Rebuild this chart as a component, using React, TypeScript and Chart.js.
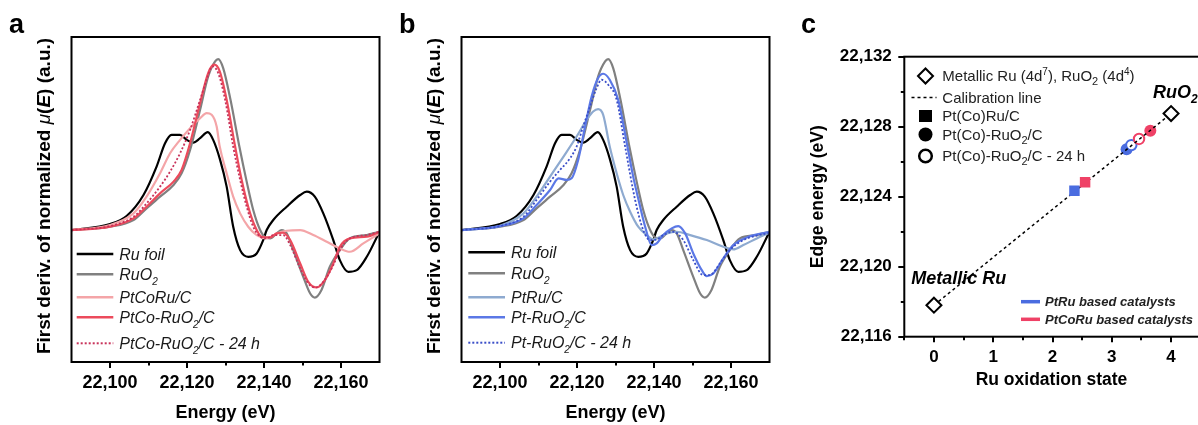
import { useEffect, useRef } from 'react';
import { Chart, registerables } from 'chart.js';

Chart.register(...registerables);

const FONT = '"Liberation Sans", Arial, Helvetica, sans-serif';

// ---------------- Panels a & b : first derivative of normalized mu(E) ----------------
const energyTicks = [22100, 22120, 22140, 22160];
const energyMinorTicks = [22110, 22130, 22150];

const ruFoilE = [22090, 22100, 22104.3, 22108.7, 22112.1, 22114.3, 22116.0, 22118.2, 22119.9, 22121.6, 22123.4, 22125.4, 22126.8, 22128.6, 22130.3, 22132.0, 22133.8, 22135.9, 22138.1, 22139.8, 22140.7, 22142.4, 22145.9, 22149.4, 22151.1, 22153.2, 22155.4, 22158.0, 22159.7, 22161.9, 22164.1, 22166.7, 22170];
const ruFoilD = [0, 0.18, 0.42, 1.05, 1.9, 2.6, 2.85, 2.85, 2.7, 2.62, 2.75, 2.93, 2.7, 2.1, 1.3, 0.1, -0.6, -0.8, -0.7, -0.3, 0, 0.3, 0.7, 1.05, 1.15, 1.0, 0.5, -0.3, -0.9, -1.25, -1.2, -0.8, -0.05];

const ruO2E = [22090, 22100, 22106.1, 22109.5, 22113.0, 22116.5, 22118.6, 22120.8, 22123.4, 22125.5, 22127.3, 22128.1, 22129.4, 22131.3, 22133.6, 22135.5, 22137.2, 22139.0, 22140.3, 22141.6, 22143.3, 22144.6, 22145.9, 22147.6, 22150.2, 22152.0, 22153.2, 22154.9, 22157.1, 22159.7, 22162.3, 22166.7, 22170];
const ruO2D = [0, 0.1, 0.3, 0.65, 1.0, 1.35, 1.7, 2.4, 3.6, 4.6, 5.05, 5.12, 4.85, 3.9, 2.5, 1.45, 0.6, 0.0, -0.22, -0.25, -0.1, 0, -0.1, -0.6, -1.4, -1.9, -2.02, -1.8, -1.1, -0.6, -0.25, -0.15, -0.05];

const ptCoRuE = [22090, 22100, 22106.1, 22109.5, 22113.0, 22115.6, 22118.2, 22120.8, 22123.4, 22125.1, 22126.4, 22127.7, 22128.5, 22130.3, 22132.0, 22133.8, 22135.9, 22138.1, 22140.7, 22143.3, 22145.9, 22149.4, 22152.8, 22156.3, 22159.7, 22162.3, 22165.8, 22170];
const ptCoRuD = [0, 0.15, 0.5, 1.0, 1.7, 2.3, 2.7, 3.05, 3.35, 3.5, 3.45, 3.1, 2.5, 1.7, 1.0, 0.5, 0.1, -0.15, -0.25, -0.1, -0.02, 0, -0.15, -0.35, -0.55, -0.65, -0.4, -0.1];

const ptCoRuO2E = [22090, 22100, 22106.1, 22109.5, 22113.0, 22116.5, 22118.6, 22120.8, 22123.4, 22125.5, 22127.1, 22128.5, 22130.3, 22132.5, 22134.2, 22135.9, 22137.7, 22139.4, 22141.6, 22143.3, 22145.0, 22146.8, 22149.4, 22151.5, 22153.7, 22155.8, 22158.0, 22159.7, 22162.3, 22166.7, 22170];
const ptCoRuO2D = [0, 0.1, 0.35, 0.7, 1.1, 1.45, 1.8, 2.6, 3.8, 4.7, 4.95, 4.75, 3.9, 2.5, 1.5, 0.7, 0.1, -0.2, -0.22, -0.1, -0.08, -0.3, -1.0, -1.55, -1.72, -1.5, -1.0, -0.5, -0.25, -0.2, -0.05];

const ptCoRuO2_24hE = [22090, 22100, 22106.1, 22109.5, 22113.0, 22115.6, 22118.2, 22120.8, 22123.4, 22125.1, 22126.6, 22128.1, 22129.9, 22132.0, 22133.8, 22135.5, 22137.2, 22139.0, 22140.7, 22142.4, 22145.0, 22146.8, 22149.4, 22151.5, 22153.2, 22155.4, 22158.0, 22159.7, 22162.3, 22166.7, 22170];
const ptCoRuO2_24hD = [0, 0.12, 0.4, 0.8, 1.3, 1.75, 2.3, 3.0, 3.9, 4.5, 4.9, 4.7, 3.9, 2.5, 1.5, 0.7, 0.1, -0.2, -0.25, -0.15, -0.15, -0.45, -1.15, -1.6, -1.72, -1.55, -1.05, -0.6, -0.25, -0.15, -0.05];

const ptRuE = [22090, 22100, 22106.1, 22109.5, 22113.0, 22116.5, 22119.9, 22122.5, 22124.2, 22125.5, 22126.8, 22128.5, 22130.3, 22132.0, 22133.8, 22135.9, 22138.1, 22139.8, 22143.3, 22145.9, 22149.4, 22153.7, 22158.0, 22160.6, 22163.2, 22166.7, 22170];
const ptRuD = [0, 0.13, 0.5, 1.0, 1.6, 2.2, 2.8, 3.3, 3.55, 3.62, 3.45, 2.5, 1.7, 1.05, 0.55, 0.1, -0.15, -0.28, -0.1, -0.05, -0.15, -0.3, -0.5, -0.58, -0.45, -0.25, -0.08];

const ptRuO2E = [22090, 22100, 22106.1, 22109.5, 22113.0, 22115.2, 22117.3, 22118.6, 22120.3, 22122.1, 22123.8, 22125.5, 22126.8, 22128.5, 22130.7, 22133.1, 22134.6, 22136.4, 22137.7, 22139.4, 22140.7, 22142.4, 22144.6, 22146.3, 22148.1, 22150.2, 22152.4, 22153.7, 22155.4, 22158.0, 22160.6, 22164.1, 22170];
const ptRuO2D = [0, 0.12, 0.35, 0.75, 1.2, 1.55, 1.5, 1.55, 2.1, 3.1, 4.0, 4.55, 4.68, 4.5, 3.9, 2.5, 1.6, 0.7, 0.1, -0.45, -0.4, -0.15, 0.05, 0.12, -0.1, -0.7, -1.2, -1.38, -1.3, -0.85, -0.45, -0.22, -0.05];

const ptRuO2_24hE = [22090, 22100, 22106.1, 22109.5, 22113.0, 22115.6, 22118.2, 22119.9, 22121.6, 22123.4, 22125.1, 22126.4, 22128.1, 22130.3, 22132.5, 22135.1, 22137.2, 22139.0, 22140.7, 22142.4, 22145.0, 22147.6, 22150.2, 22152.8, 22154.5, 22157.1, 22159.7, 22163.2, 22170];
const ptRuO2_24hD = [0, 0.12, 0.4, 0.9, 1.45, 1.8, 2.15, 2.5, 3.1, 3.7, 4.25, 4.5, 4.35, 3.9, 2.5, 0.9, 0, -0.3, -0.28, -0.15, -0.05, -0.3, -0.9, -1.35, -1.35, -1.0, -0.6, -0.3, -0.08];

const labelsA = ['Ru foil', 'RuO₂', 'PtCoRu/C', 'PtCo-RuO₂/C', 'PtCo-RuO₂/C - 24 h'];
const labelsB = ['Ru foil', 'RuO₂', 'PtRu/C', 'Pt-RuO₂/C', 'Pt-RuO₂/C - 24 h'];

// ---------------- Panel c : edge energy vs Ru oxidation state ----------------
const stateTicks = [0, 1, 2, 3, 4];
const stateMinorTicks = [-0.5, 0.5, 1.5, 2.5, 3.5];
const edgeTicks = [22116, 22120, 22124, 22128, 22132];
const edgeMinorTicks = [22118, 22122, 22126, 22130];

const refNames = ['Metallic Ru', 'RuO₂'];
const refState = [0, 4];
const refEdge = [22117.8, 22128.75];
const squareState = [2.37, 2.55]; // PtRu/C, PtCoRu/C
const squareEdge = [22124.34, 22124.82];
const filledState = [3.25, 3.65]; // Pt-RuO2/C, PtCo-RuO2/C
const filledEdge = [22126.71, 22127.77];
const openState = [3.33, 3.46]; // after 24 h
const openEdge = [22126.95, 22127.3];
const cLegendLabels = ['Metallic Ru (4d⁷), RuO₂ (4d⁴)', 'Calibration line', 'Pt(Co)Ru/C', 'Pt(Co)-RuO₂/C', 'Pt(Co)-RuO₂/C - 24 h'];
const familyLabels = ['PtRu based catalysts', 'PtCoRu based catalysts'];

// ---------------- styles ----------------
const BLUE_C = '#4a6ce0';
const RED_C = '#ef4166';

type Seg = { t: string; f: string; dy?: number };
const SUBS = '₀₁₂₃₄₅₆₇₈₉';
const SUPS = '⁰¹²³⁴⁵⁶⁷⁸⁹';

function rich(text: string, style: string, size: number, subSize: number, subDy: number, supSize = subSize, supDy = -subDy - 2): Seg[] {
  const f = (sz: number) => `${style} ${sz}px ${FONT}`;
  const out: Seg[] = [];
  let buf = '';
  for (const ch of text) {
    const i = SUBS.indexOf(ch);
    const j = SUPS.indexOf(ch);
    if (i < 0 && j < 0) { buf += ch; continue; }
    if (buf) out.push({ t: buf, f: f(size) });
    buf = '';
    out.push(i >= 0 ? { t: String(i), f: f(subSize), dy: subDy } : { t: String(j), f: f(supSize), dy: supDy });
  }
  if (buf) out.push({ t: buf, f: f(size) });
  return out;
}

function drawSegs(ctx: CanvasRenderingContext2D, segs: Seg[], x: number, y: number, align: 'left' | 'center', rot: number, color: string) {
  ctx.save();
  ctx.translate(x, y);
  if (rot) ctx.rotate(rot);
  ctx.fillStyle = color;
  ctx.textBaseline = 'alphabetic';
  ctx.textAlign = 'left';
  let w = 0;
  for (const s of segs) { ctx.font = s.f; w += ctx.measureText(s.t).width; }
  let cx = align === 'center' ? -w / 2 : 0;
  for (const s of segs) {
    ctx.font = s.f;
    ctx.fillText(s.t, cx, s.dy || 0);
    cx += ctx.measureText(s.t).width;
  }
  ctx.restore();
}

const pts = (xs: number[], ys: number[]) => xs.map((x, i) => ({ x, y: ys[i] }));

function curve(label: string, e: number[], d: number[], color: string, order: number, dotted = false) {
  return {
    label,
    data: pts(e, d),
    borderColor: color,
    borderWidth: dotted ? 1.8 : 2.2,
    borderDash: dotted ? [2, 2] : [],
    pointRadius: 0,
    cubicInterpolationMode: 'monotone',
    fill: false,
    order,
  };
}

const yTitleSegs: Seg[] = [
  { t: 'First deriv. of normalized ', f: `bold 19px ${FONT}` },
  { t: 'μ', f: `italic 19px ${FONT}` },
  { t: '(', f: `bold 19px ${FONT}` },
  { t: 'E', f: `bold italic 19px ${FONT}` },
  { t: ') (a.u.)', f: `bold 19px ${FONT}` },
];

function spectraConfig(datasets: any[], letter: string, lg: { x0: number; x1: number; tx: number; rows: number[] }) {
  const decor = {
    id: 'decorSpectra',
    afterDraw(chart: any) {
      const ctx: CanvasRenderingContext2D = chart.ctx;
      const a = chart.chartArea;
      const xs = chart.scales.x;
      ctx.save();
      ctx.strokeStyle = '#000';
      ctx.lineWidth = 2;
      ctx.strokeRect(a.left, a.top, a.right - a.left, a.bottom - a.top);
      ctx.beginPath();
      for (const v of energyMinorTicks) {
        const px = Math.round(xs.getPixelForValue(v));
        ctx.moveTo(px, a.bottom);
        ctx.lineTo(px, a.bottom + 3.5);
      }
      ctx.stroke();
      chart.data.datasets.forEach((ds: any, i: number) => {
        const y = lg.rows[i];
        ctx.strokeStyle = ds.borderColor;
        ctx.lineWidth = ds.borderWidth + 0.2;
        ctx.setLineDash(ds.borderDash || []);
        ctx.beginPath();
        ctx.moveTo(lg.x0, y);
        ctx.lineTo(lg.x1, y);
        ctx.stroke();
        ctx.setLineDash([]);
        drawSegs(ctx, rich(ds.label, 'italic', 16, 10, 5), lg.tx, y + 5.5, 'left', 0, '#1a1a1a');
      });
      drawSegs(ctx, [{ t: letter, f: `bold 27px ${FONT}` }], 9, 33.3, 'left', 0, '#000');
      drawSegs(ctx, [{ t: 'Energy (eV)', f: `bold 18px ${FONT}` }], (a.left + a.right) / 2, 418.3, 'center', 0, '#000');
      drawSegs(ctx, yTitleSegs, 49.5, 196, 'center', -Math.PI / 2, '#000');
      ctx.restore();
    },
  };
  return {
    type: 'line',
    data: { datasets },
    options: {
      responsive: false,
      animation: false,
      events: [],
      layout: { padding: { left: 0, top: 37, right: 15.5, bottom: 0 } },
      scales: {
        x: {
          type: 'linear',
          min: 22090,
          max: 22170,
          afterBuildTicks: (s: any) => { s.ticks = energyTicks.map((v) => ({ value: v })); },
          afterFit: (s: any) => { s.height = 63; },
          ticks: {
            autoSkip: false,
            maxRotation: 0,
            padding: 4,
            color: '#000',
            font: { family: FONT, size: 18, weight: 'bold' },
            callback: (v: any) => Number(v).toLocaleString('en-US'),
          },
          grid: { display: true, drawOnChartArea: false, drawTicks: true, tickLength: 6, tickWidth: 2, tickColor: '#000', lineWidth: 2, color: '#000' },
          border: { display: false },
        },
        y: {
          type: 'linear',
          min: -3.95,
          max: 5.78,
          afterFit: (s: any) => { s.width = 71.5; },
          ticks: { display: false },
          grid: { display: false },
          border: { display: false },
        },
      },
      plugins: { legend: { display: false }, tooltip: { enabled: false } },
    },
    plugins: [decor],
  };
}

function oxidationConfig() {
  const decor = {
    id: 'decorOx',
    afterDraw(chart: any) {
      const ctx: CanvasRenderingContext2D = chart.ctx;
      const a = chart.chartArea;
      const xs = chart.scales.x;
      const ys = chart.scales.y;
      ctx.save();
      ctx.strokeStyle = '#000';
      ctx.lineWidth = 2;
      ctx.strokeRect(a.left, a.top, a.right - a.left, a.bottom - a.top);
      ctx.beginPath();
      for (const v of stateMinorTicks) {
        const px = Math.round(xs.getPixelForValue(v));
        ctx.moveTo(px, a.bottom);
        ctx.lineTo(px, a.bottom + 3.5);
      }
      for (const v of edgeMinorTicks) {
        const py = Math.round(ys.getPixelForValue(v));
        ctx.moveTo(a.left, py);
        ctx.lineTo(a.left - 3.5, py);
      }
      ctx.stroke();

      // legend (top-left)
      const mx = 135.5;
      const tx = 152.3;
      const rows = [76, 97.5, 116, 134.5, 156];
      ctx.lineWidth = 2;
      ctx.fillStyle = '#fff';
      ctx.beginPath();
      ctx.moveTo(mx - 7.5, rows[0]);
      ctx.lineTo(mx, rows[0] - 7.5);
      ctx.lineTo(mx + 7.5, rows[0]);
      ctx.lineTo(mx, rows[0] + 7.5);
      ctx.closePath();
      ctx.fill();
      ctx.stroke();
      ctx.lineWidth = 1.5;
      ctx.setLineDash([3, 3]);
      ctx.beginPath();
      ctx.moveTo(mx - 14, rows[1]);
      ctx.lineTo(mx + 11, rows[1]);
      ctx.stroke();
      ctx.setLineDash([]);
      ctx.fillStyle = '#000';
      ctx.fillRect(mx - 6.5, rows[2] - 6, 13, 12);
      ctx.beginPath();
      ctx.arc(mx, rows[3], 7, 0, Math.PI * 2);
      ctx.fill();
      ctx.lineWidth = 2.5;
      ctx.fillStyle = '#fff';
      ctx.beginPath();
      ctx.arc(mx, rows[4], 6.3, 0, Math.PI * 2);
      ctx.fill();
      ctx.stroke();
      cLegendLabels.forEach((lab, i) => {
        drawSegs(ctx, rich(lab, 'normal', 15, 11, 4, 10, -6), tx, rows[i] + 5, 'left', 0, '#222');
      });

      // family legend (bottom-right)
      const famColors = [BLUE_C, RED_C];
      const famRows = [301.7, 319.3];
      familyLabels.forEach((lab, i) => {
        ctx.strokeStyle = famColors[i];
        ctx.lineWidth = 3.5;
        ctx.beginPath();
        ctx.moveTo(231, famRows[i]);
        ctx.lineTo(250, famRows[i]);
        ctx.stroke();
        drawSegs(ctx, [{ t: lab, f: `bold italic 13px ${FONT}` }], 255, famRows[i] + 4.6, 'left', 0, '#222');
      });

      // annotations near reference points
      const offs = [[-22.6, -21], [-18, -15.7]];
      refNames.forEach((name, i) => {
        const px = xs.getPixelForValue(refState[i]) + offs[i][0];
        const py = ys.getPixelForValue(refEdge[i]) + offs[i][1];
        drawSegs(ctx, rich(name, 'bold italic', 18, 12, 5), px, py, 'left', 0, '#000');
      });

      drawSegs(ctx, [{ t: 'c', f: `bold 27px ${FONT}` }], 11, 33.3, 'left', 0, '#000');
      drawSegs(ctx, [{ t: 'Ru oxidation state', f: `bold 17.5px ${FONT}` }], (a.left + a.right) / 2 - 1, 385, 'center', 0, '#000');
      drawSegs(ctx, [{ t: 'Edge energy (eV)', f: `bold 17.5px ${FONT}` }], 33.3, (a.top + a.bottom) / 2, 'center', -Math.PI / 2, '#000');
      ctx.restore();
    },
  };

  const tickFont = { family: FONT, size: 17, weight: 'bold' };
  const grid = { display: true, drawOnChartArea: false, drawTicks: true, tickLength: 5.5, tickWidth: 2, tickColor: '#000', lineWidth: 2, color: '#000' };
  return {
    type: 'scatter',
    data: {
      datasets: [
        { label: cLegendLabels[1], data: pts(refState, refEdge), showLine: true, borderColor: '#000', borderWidth: 1.5, borderDash: [3, 3], pointRadius: 0, order: 2 },
        { label: cLegendLabels[0], data: pts(refState, refEdge), pointStyle: 'rectRot', pointRadius: 7.5, pointBorderWidth: 2, pointBorderColor: '#000', pointBackgroundColor: '#fff', order: 0 },
        { label: cLegendLabels[2], data: pts(squareState, squareEdge), pointStyle: 'rect', pointRadius: 7.4, pointBorderWidth: 0, pointBackgroundColor: [BLUE_C, RED_C], order: 1 },
        { label: cLegendLabels[3], data: pts(filledState, filledEdge), pointStyle: 'circle', pointRadius: 6, pointBorderWidth: 0, pointBackgroundColor: [BLUE_C, RED_C], order: 4 },
        { label: cLegendLabels[4], data: pts(openState, openEdge), pointStyle: 'circle', pointRadius: 5.2, pointBorderWidth: 2, pointBorderColor: [BLUE_C, RED_C], pointBackgroundColor: '#fff', order: 3 },
      ],
    },
    options: {
      responsive: false,
      animation: false,
      events: [],
      layout: { padding: { left: 0, top: 56.7, right: 19.3, bottom: 0 } },
      scales: {
        x: {
          type: 'linear',
          min: -0.5,
          max: 4.5,
          afterBuildTicks: (s: any) => { s.ticks = stateTicks.map((v) => ({ value: v })); },
          afterFit: (s: any) => { s.height = 88.3; },
          ticks: { autoSkip: false, maxRotation: 0, padding: 4.5, color: '#000', font: tickFont, callback: (v: any) => String(v) },
          grid,
          border: { display: false },
        },
        y: {
          type: 'linear',
          min: 22116,
          max: 22132,
          afterBuildTicks: (s: any) => { s.ticks = edgeTicks.map((v) => ({ value: v })); },
          afterFit: (s: any) => { s.width = 114.3; },
          ticks: { autoSkip: false, padding: 6.5, color: '#000', font: tickFont, callback: (v: any) => Number(v).toLocaleString('en-US') },
          grid: { ...grid, tickLength: 6 },
          border: { display: false },
        },
      },
      plugins: { legend: { display: false }, tooltip: { enabled: false } },
    },
    plugins: [decor],
  };
}

function datasetsA() {
  return [
    curve(labelsA[0], ruFoilE, ruFoilD, '#000000', 5),
    curve(labelsA[1], ruO2E, ruO2D, '#808080', 4),
    curve(labelsA[2], ptCoRuE, ptCoRuD, '#f4a5a8', 3),
    curve(labelsA[3], ptCoRuO2E, ptCoRuO2D, '#ec4b5c', 2),
    curve(labelsA[4], ptCoRuO2_24hE, ptCoRuO2_24hD, '#c8325a', 1, true),
  ];
}

function datasetsB() {
  return [
    curve(labelsB[0], ruFoilE, ruFoilD, '#000000', 5),
    curve(labelsB[1], ruO2E, ruO2D, '#808080', 4),
    curve(labelsB[2], ptRuE, ptRuD, '#8eaad0', 3),
    curve(labelsB[3], ptRuO2E, ptRuO2D, '#5b78e6', 2),
    curve(labelsB[4], ptRuO2_24hE, ptRuO2_24hD, '#3a4ec8', 1, true),
  ];
}

export default function App() {
  const aRef = useRef<HTMLCanvasElement>(null);
  const bRef = useRef<HTMLCanvasElement>(null);
  const cRef = useRef<HTMLCanvasElement>(null);

  useEffect(() => {
    const charts = [
      new Chart(aRef.current as any, spectraConfig(datasetsA(), 'a', { x0: 76.7, x1: 113.3, tx: 119.3, rows: [254, 274.3, 297.3, 317.3, 343.3] }) as any),
      new Chart(bRef.current as any, spectraConfig(datasetsB(), 'b', { x0: 78.3, x1: 115, tx: 121, rows: [252.3, 273.3, 297.3, 317.3, 342.7] }) as any),
      new Chart(cRef.current as any, oxidationConfig() as any),
    ];
    return () => charts.forEach((c) => c.destroy());
  }, []);

  return (
    <div style={{ position: 'fixed', left: 0, top: 0, width: 1198, height: 425, overflow: 'hidden', background: '#fff' }}>
      <canvas ref={aRef} width={395} height={425} style={{ position: 'absolute', left: 0, top: 0, width: 395, height: 425 }} />
      <canvas ref={bRef} width={395} height={425} style={{ position: 'absolute', left: 390, top: 0, width: 395, height: 425 }} />
      <canvas ref={cRef} width={430} height={425} style={{ position: 'absolute', left: 790, top: 0, width: 430, height: 425 }} />
    </div>
  );
}
